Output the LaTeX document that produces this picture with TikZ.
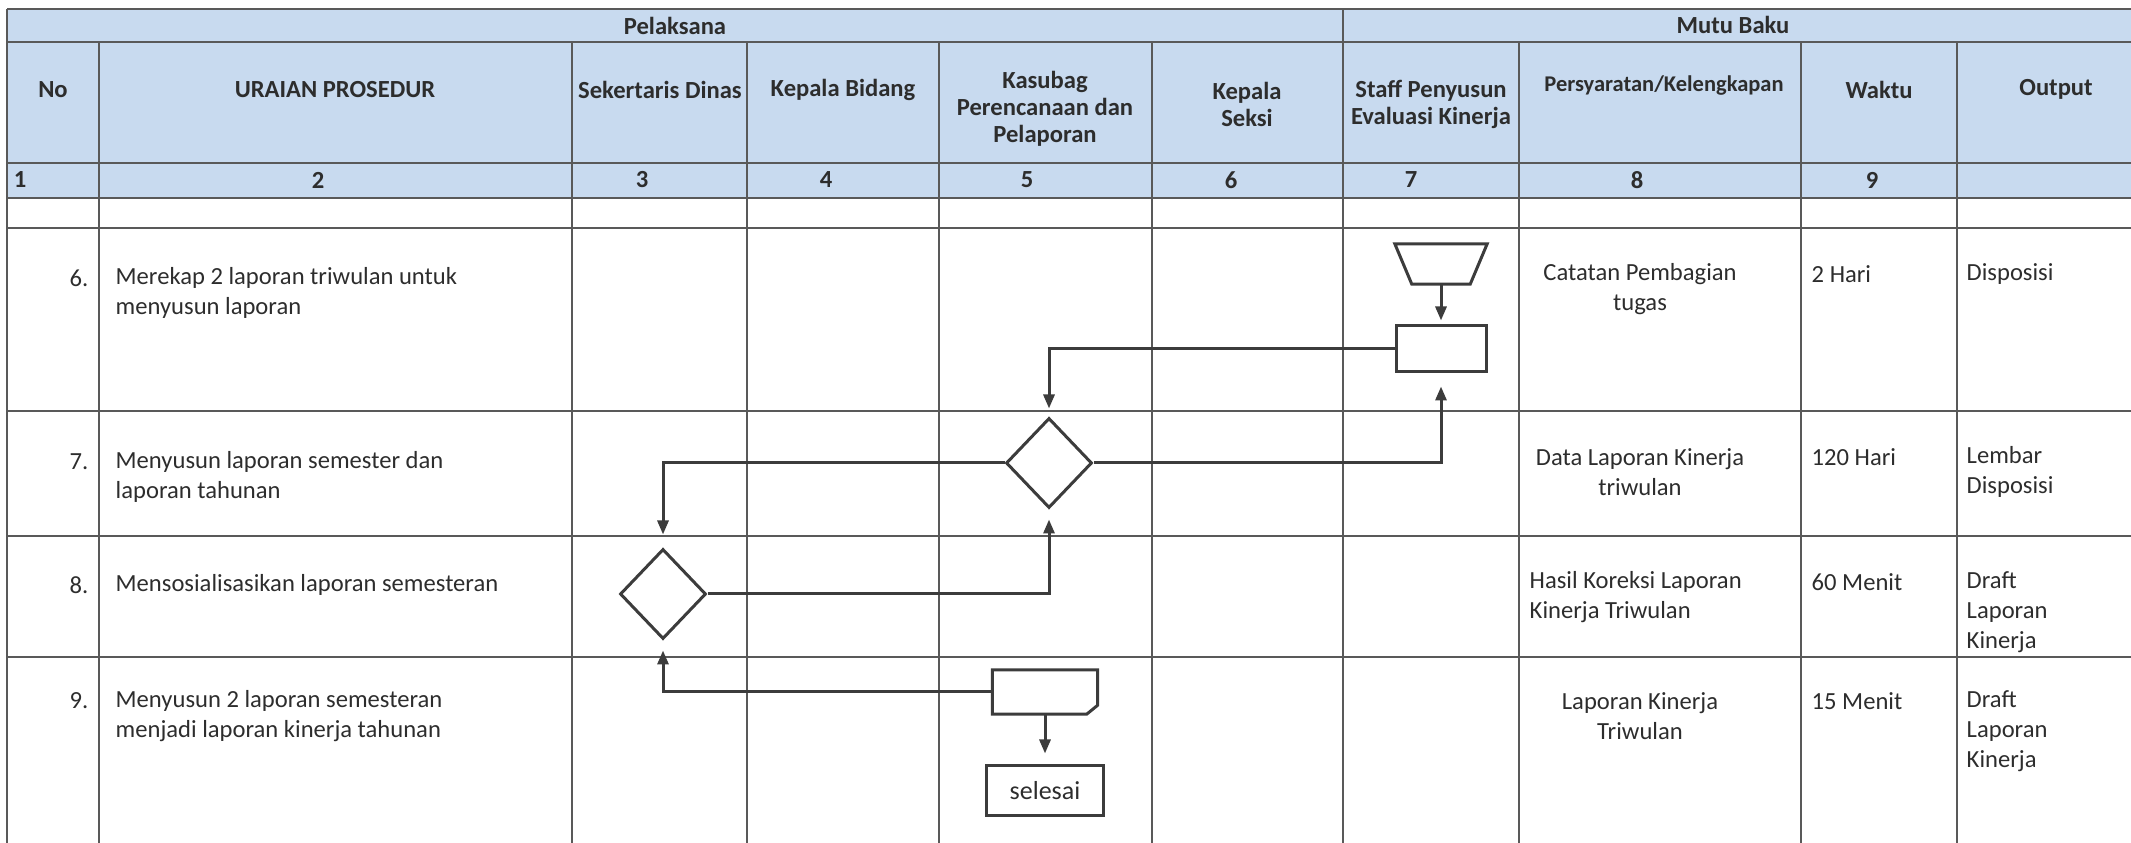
\documentclass[tikz,border=0pt]{standalone}
\usepackage{fontspec}
\setmainfont{Carlito}
\usetikzlibrary{positioning, arrows.meta, shapes.geometric}

\definecolor{hdrblue}{RGB}{200,218,239}
\definecolor{inkgray}{RGB}{60,60,60}
\definecolor{txtgray}{RGB}{45,45,45}

\begin{document}
\begin{tikzpicture}[
        x=0.1mm, y=-0.1mm,
        base/.style={inner sep=0pt, text=txtgray, font=\fontsize{7}{8.5}\selectfont},
        hdr/.style={base, align=center, font=\fontsize{7}{7.7}\selectfont\bfseries},
        txt/.style={base, align=left, anchor=west},
        num/.style={base, anchor=east},
        mid/.style={base, align=center},
        tline/.style={draw=inkgray!85, line width=0.18mm},
        shp/.style={draw=inkgray, line width=0.3mm, inner sep=0pt},
        slot/.style={rectangle, inner sep=0pt},
        manop/.style={slot, minimum width=9.1mm, minimum height=3.9mm},
        proc/.style={shp, rectangle, minimum width=9mm, minimum height=4.6mm},
        dec/.style={shp, diamond, minimum width=8.6mm, minimum height=9mm},
        doc/.style={slot, minimum width=10.4mm, minimum height=4.3mm},
        term/.style={shp, rectangle, minimum width=11.7mm, minimum height=5mm, text=txtgray, font=\fontsize{7.4}{9}\selectfont},
        arr/.style={draw=inkgray, line width=0.3mm, -{Triangle[length=1.4mm, width=1.1mm]}}
    ]
    \useasboundingbox (0,0) rectangle (2131,843);

    % table head and grid
    \fill[hdrblue] (7,9) rectangle (2131,198);
    \foreach \y in {9,42,163,198,228,411,536,657}
        \draw[tline] (7,\y) -- (2131,\y);
    \draw[tline] (7,9) -- (7,843);
    \draw[tline] (1343,9) -- (1343,843);
    \foreach \x in {99,572,747,939,1152,1519,1801,1957}
        \draw[tline] (\x,42) -- (\x,843);

    \node[hdr] (pel) at (675,26) {Pelaksana};
    \node[hdr] (mutu) at (1733,25) {Mutu Baku};
    \node[hdr] (hno) at (53,90) {No};
    \node[hdr] (hur) at (335,90) {URAIAN PROSEDUR};
    \node[hdr] (hsek) at (660,90) {Sekertaris Dinas};
    \node[hdr] (hkb) at (843,90) {Kepala Bidang};
    \node[hdr] (hkas) at (1045,109) {Kasubag\\Perencanaan dan\\Pelaporan};
    \node[hdr] (hks) at (1247,104) {Kepala\\Seksi};
    \node[hdr] (hstf) at (1431,104) {Staff Penyusun\\Evaluasi Kinerja};
    \node[hdr, font=\fontsize{6.4}{7.7}\selectfont\bfseries] (hsyr) at (1664,86) {Persyaratan/Kelengkapan};
    \node[hdr] (hwkt) at (1879,90) {Waktu};
    \node[hdr] (hout) at (2056,89) {Output};

    \node[hdr] (c1) at (20,180) {1};
    \node[hdr] (c2) at (318,180) {2};
    \node[hdr] (c3) at (642,180) {3};
    \node[hdr] (c4) at (826,180) {4};
    \node[hdr] (c5) at (1027,180) {5};
    \node[hdr] (c6) at (1231,180) {6};
    \node[hdr] (c7) at (1411,180) {7};
    \node[hdr] (c8) at (1637,180) {8};
    \node[hdr] (c9) at (1872,180) {9};

    % rows
    \node[num] (no6) at (89,278) {6.};
    \node[txt] (u6) at (115,293) {Merekap 2 laporan triwulan untuk\\menyusun laporan};
    \node[num] (no7) at (89,462) {7.};
    \node[txt] (u7) at (115,477) {Menyusun laporan semester dan\\laporan tahunan};
    \node[num] (no8) at (89,585) {8.};
    \node[txt] (u8) at (115,585) {Mensosialisasikan laporan semesteran};
    \node[num] (no9) at (89,701) {9.};
    \node[txt] (u9) at (115,716) {Menyusun 2 laporan semesteran\\menjadi laporan kinerja tahunan};

    \node[mid] (s6) at (1640,289) {Catatan Pembagian\\tugas};
    \node[mid] (s7) at (1640,472) {Data Laporan Kinerja\\triwulan};
    \node[txt] (s8) at (1529,597) {Hasil Koreksi Laporan\\Kinerja Triwulan};
    \node[mid] (s9) at (1640,716) {Laporan Kinerja\\Triwulan};

    \node[txt] (w6) at (1811,274) {2 Hari};
    \node[txt] (w7) at (1811,457) {120 Hari};
    \node[txt] (w8) at (1811,582) {60 Menit};
    \node[txt] (w9) at (1811,701) {15 Menit};

    \node[txt] (o6) at (1966,274) {Disposisi};
    \node[txt] (o7) at (1966,472) {Lembar\\Disposisi};
    \node[txt] (o8) at (1966,612) {Draft\\Laporan\\Kinerja};
    \node[txt] (o9) at (1966,731) {Draft\\Laporan\\Kinerja};

    % flow
    \node[manop] (trap) at (1441,264) {};
    \draw[shp] (trap.north west) -- (trap.north east) -- ([xshift=-1.7mm]trap.south east)
        -- ([xshift=1.7mm]trap.south west) -- cycle;
    \node[proc] (rect) at (1441,349) {};
    \node[dec] (d1) at (1049,463) {};
    \node[dec] (d2) at (663,594) {};
    \node[doc] (card) at (1045,692) {};
    \draw[shp] (card.north west) -- (card.north east) -- ([yshift=0.9mm]card.south east)
        -- ([xshift=-1.1mm]card.south east) -- (card.south west) -- cycle;
    \node[term] (fin) at (1045,791) {selesai};

    \draw[arr, shorten >=0.4mm] (trap) -- (rect);
    \draw[arr, shorten >=0.8mm] (rect.west) -| (d1.north);
    \draw[arr, shorten >=1.3mm] (d1.east) -| (rect.south);
    \draw[arr, shorten >=1.3mm] (d1.west) -| (d2.north);
    \draw[arr, shorten >=1mm] (d2.east) -| (d1.south);
    \draw[arr, shorten >=1mm] (card.west) -| (d2.south);
    \draw[arr, shorten >=1.1mm] (card) -- (fin);
\end{tikzpicture}
\end{document}
